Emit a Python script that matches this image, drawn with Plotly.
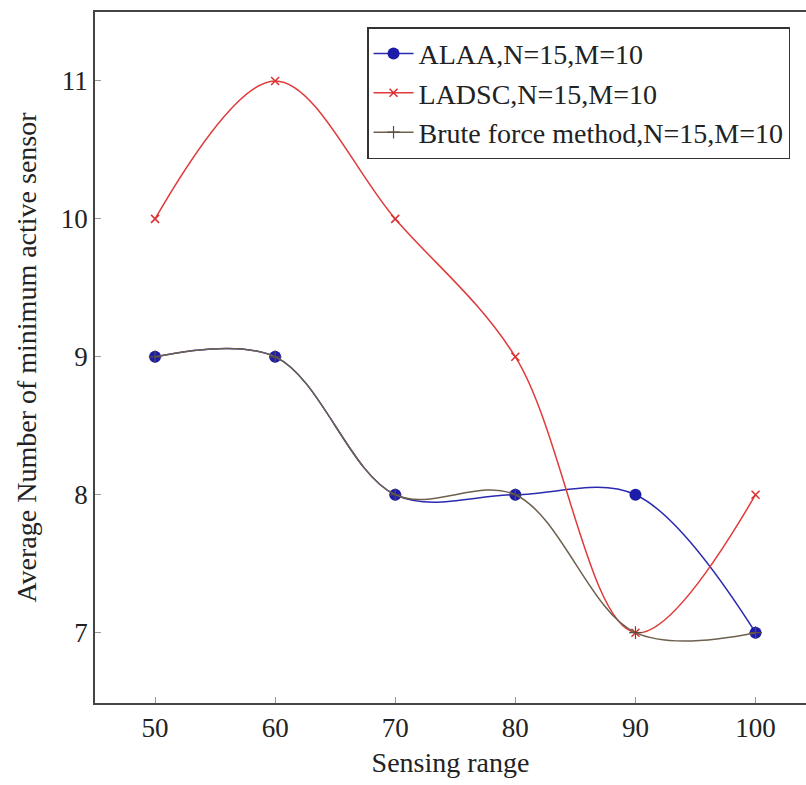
import plotly.graph_objects as go

# Sensing range values (x) and average number of minimum active sensors
sensing_range = [50, 60, 70, 80, 90, 100]
alaa = [9, 9, 8, 8, 8, 7]
ladsc = [10, 11, 10, 9, 7, 8]
brute_force = [9, 9, 8, 8, 7, 7]

names = ["ALAA,N=15,M=10", "LADSC,N=15,M=10", "Brute force method,N=15,M=10"]
x_ticks = [50, 60, 70, 80, 90, 100]
y_ticks = [7, 8, 9, 10, 11]

FONT = "Liberation Serif"
TEXT = "#222"

fig = go.Figure()

fig.add_trace(go.Scatter(
    x=sensing_range, y=alaa, name=names[0], mode="lines+markers",
    line=dict(color="#2a2ab0", width=1.5, shape="spline", smoothing=1),
    marker=dict(symbol="circle", size=12, color="#1c1ca8"),
))
fig.add_trace(go.Scatter(
    x=sensing_range, y=ladsc, name=names[1], mode="lines+markers",
    line=dict(color="#e03a3a", width=1.5, shape="spline", smoothing=1),
    marker=dict(symbol="x-thin", size=8, color="#d83030",
                line=dict(width=1.5, color="#d83030")),
))
fig.add_trace(go.Scatter(
    x=sensing_range, y=brute_force, name=names[2], mode="lines+markers",
    line=dict(color="#6e604e", width=1.5, shape="spline", smoothing=1),
    marker=dict(symbol="cross-thin", size=9, color="#5a4e40",
                line=dict(width=1.2, color="#5a4e40")),
))

fig.update_layout(
    width=806, height=785,
    margin=dict(l=95, r=0, t=12, b=82),
    paper_bgcolor="white", plot_bgcolor="white",
    font=dict(family=FONT, size=27, color=TEXT),
    showlegend=True,
    legend=dict(
        x=0.3826, y=0.978, xanchor="left", yanchor="top",
        bgcolor="white", bordercolor="#333", borderwidth=1.5,
        font=dict(family=FONT, size=28, color=TEXT),
        itemwidth=40, tracegroupgap=0,
    ),
    xaxis=dict(
        range=[45, 104.2], tickvals=x_ticks, ticktext=[str(v) for v in x_ticks],
        showgrid=False, zeroline=False,
        showline=True, linecolor="#444", linewidth=1.5, mirror=True,
        ticks="inside", ticklen=6, tickcolor="#999", tickwidth=1,
        tickfont=dict(family=FONT, size=27, color=TEXT),
        title=dict(text="Sensing range", font=dict(family=FONT, size=28, color=TEXT),
                   standoff=10),
    ),
    yaxis=dict(
        range=[6.49, 11.5], tickvals=y_ticks, ticktext=[str(v) for v in y_ticks],
        showgrid=False, zeroline=False,
        showline=True, linecolor="#444", linewidth=1.5, mirror=False,
        ticks="inside", ticklen=6, tickcolor="#999", tickwidth=1,
        tickfont=dict(family=FONT, size=27, color=TEXT),
        title=dict(text="Average Number of minimum active sensor",
                   font=dict(family=FONT, size=28, color=TEXT), standoff=16),
    ),
)

fig.write_html("out.html")
